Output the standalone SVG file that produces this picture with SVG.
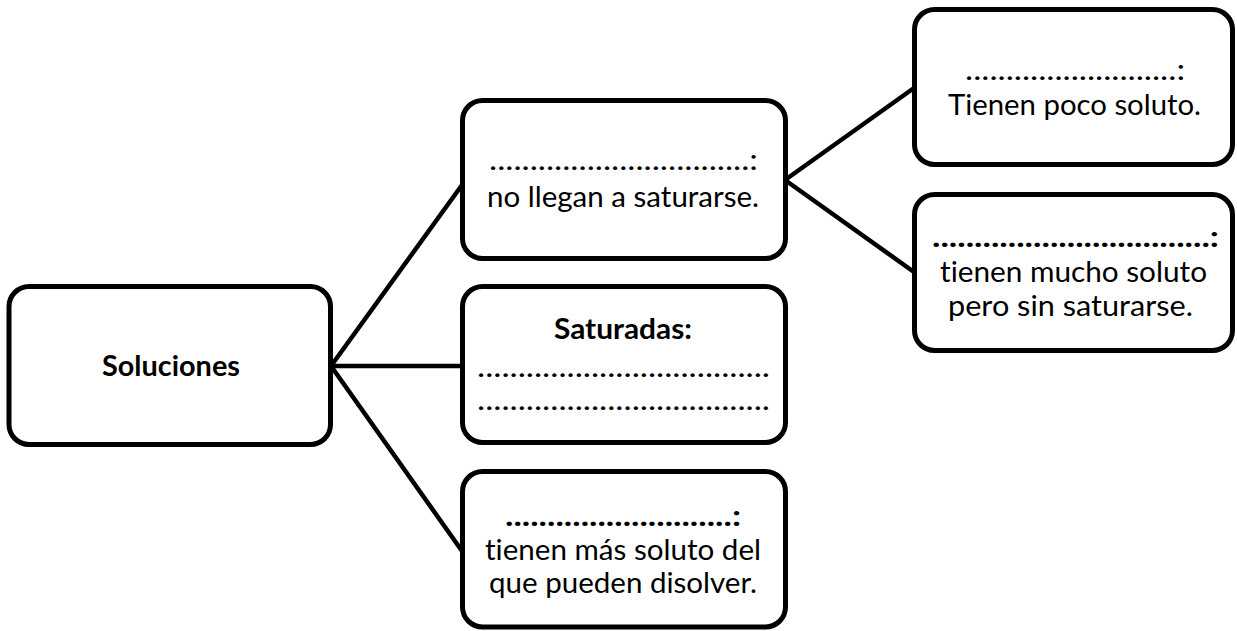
<svg xmlns="http://www.w3.org/2000/svg" width="1237" height="631" viewBox="0 0 1237 631">
<style>
.box{fill:#fff;stroke:#000;stroke-width:5}
.con{stroke:#000;stroke-width:4.5;fill:none;stroke-linecap:round}
text{font-family:Lato,"Open Sans","Liberation Sans",sans-serif;font-size:29px;fill:#000;font-variant-ligatures:none}
.b{font-weight:bold}
</style>
<rect width="1237" height="631" fill="#fff"/>
<g id="connectors">
<line class="con" x1="331" y1="366" x2="462" y2="185"/>
<line class="con" x1="331" y1="366" x2="462" y2="366"/>
<line class="con" x1="331" y1="366" x2="462" y2="551"/>
<line class="con" x1="785" y1="180" x2="914" y2="88"/>
<line class="con" x1="785" y1="180" x2="914" y2="272"/>
</g>
<g id="soluciones">
<rect class="box" x="9" y="286.5" width="321.5" height="158" rx="20"/>
<text class="b" x="102" y="376" textLength="138" lengthAdjust="spacingAndGlyphs">Soluciones</text>
</g>
<g id="insaturadas">
<rect class="box" x="462.5" y="100.5" width="323" height="158" rx="20"/>
<text x="489" y="170" textLength="269" lengthAdjust="spacingAndGlyphs">................................:</text>
<text x="487" y="207" textLength="272" lengthAdjust="spacingAndGlyphs">no llegan a saturarse.</text>
</g>
<g id="saturadas">
<rect class="box" x="462.5" y="286.5" width="323" height="156" rx="20"/>
<text class="b" x="554" y="339" textLength="138" lengthAdjust="spacingAndGlyphs">Saturadas:</text>
<text x="477" y="377" textLength="293" lengthAdjust="spacingAndGlyphs">....................................</text>
<text x="477" y="410" textLength="293" lengthAdjust="spacingAndGlyphs">....................................</text>
</g>
<g id="sobresaturadas">
<rect class="box" x="462.5" y="471.5" width="323" height="155.5" rx="20"/>
<text class="b" x="505" y="526" textLength="236" lengthAdjust="spacingAndGlyphs">...........................:</text>
<text x="485" y="560" textLength="276" lengthAdjust="spacingAndGlyphs">tienen más soluto del</text>
<text x="489" y="593" textLength="268" lengthAdjust="spacingAndGlyphs">que pueden disolver.</text>
</g>
<g id="diluidas">
<rect class="box" x="914.5" y="9.5" width="318" height="155" rx="20"/>
<text x="965" y="80" textLength="220" lengthAdjust="spacingAndGlyphs">..........................:</text>
<text x="948" y="115" textLength="253" lengthAdjust="spacingAndGlyphs">Tienen poco soluto.</text>
</g>
<g id="concentradas">
<rect class="box" x="914.5" y="194.5" width="318" height="156" rx="20"/>
<text class="b" x="932" y="247" textLength="287" lengthAdjust="spacingAndGlyphs">.................................:</text>
<text x="940" y="282" textLength="267" lengthAdjust="spacingAndGlyphs">tienen mucho soluto</text>
<text x="948" y="316" textLength="245" lengthAdjust="spacingAndGlyphs">pero sin saturarse.</text>
</g>
</svg>
